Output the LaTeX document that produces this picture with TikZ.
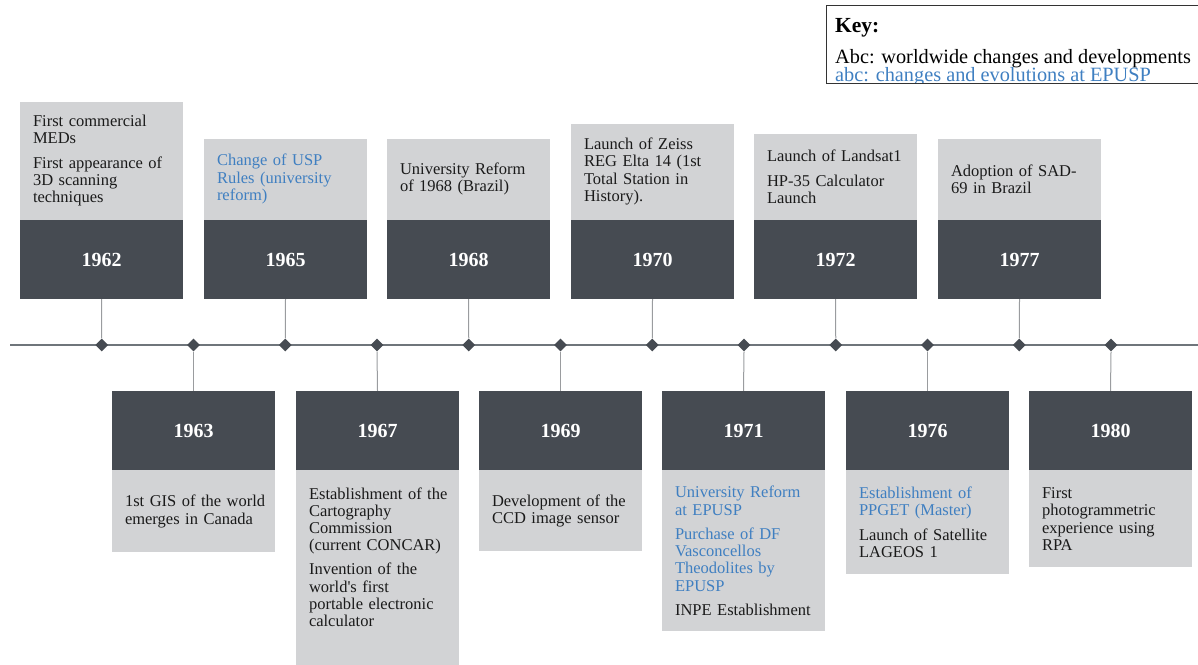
\documentclass[tikz,border=0pt]{standalone}
\usepackage{fontspec}
\setmainfont{Liberation Serif}
\usetikzlibrary{shapes.geometric}

\definecolor{slate}{HTML}{464B52}
\definecolor{cardgrey}{HTML}{D2D3D5}
\definecolor{epusp}{HTML}{3F7FC1}
\definecolor{ink}{HTML}{1A1A1A}
\definecolor{stemgrey}{HTML}{9A9C9F}
\definecolor{axisgrey}{HTML}{6F757B}

\begin{document}
\begin{tikzpicture}[x=1pt,y=-1pt,
  yearbox/.style={fill=slate, text=white,
    font=\fontsize{20}{24}\selectfont\bfseries,
    minimum width=163pt, minimum height=79pt, inner sep=0pt},
  card/.style={fill=cardgrey, minimum width=163pt, inner sep=0pt},
  cardtext/.style={text=ink, font=\fontsize{16.5}{17.3}\selectfont,
    text width=150pt, inner xsep=13pt, inner ysep=0pt, align=left, anchor=west},
  marker/.style={diamond, aspect=1, fill=slate, minimum size=13pt, inner sep=0pt},
  stem/.style={draw=stemgrey, line width=1pt},
  axisline/.style={draw=axisgrey, line width=1.5pt},
  keyline/.style={font=\fontsize{20.3}{22}\selectfont, inner sep=0pt, anchor=base west}
]
\useasboundingbox (0,0) rectangle (1198,664);
\clip (0,0) rectangle (1198,664);

% time axis
\coordinate (axl) at (10,345);
\coordinate (axr) at (1198,345);
\draw[axisline] (axl) -- (axr);

% markers on the axis
\foreach \i in {0,...,11}
  \node[marker] (d\i) at ({101.75+91.75*\i},345) {};

% ---------- events above the axis ----------
\node[yearbox] (y62) at (101.5,259.5) {1962};
\node[card, minimum height=118pt, anchor=south] (c62) at (y62.north) {};
\node[cardtext] (t62) at (c62.west)
  {First commercial\\MEDs\\[7.5pt]First appearance of\\3D scanning\\techniques};

\node[yearbox] (y65) at (285.5,259.5) {1965};
\node[card, minimum height=81pt, anchor=south] (c65) at (y65.north) {};
\node[cardtext, text=epusp] (t65) at (c65.west)
  {Change of USP\\Rules (university\\reform)};

\node[yearbox] (y68) at (468.5,259.5) {1968};
\node[card, minimum height=81pt, anchor=south] (c68) at (y68.north) {};
\node[cardtext] (t68) at (c68.west)
  {University Reform\\of 1968 (Brazil)};

\node[yearbox] (y70) at (652.5,259.5) {1970};
\node[card, minimum height=96pt, anchor=south] (c70) at (y70.north) {};
\node[cardtext] (t70) at (c70.west)
  {Launch of Zeiss\\REG Elta 14 (1st\\Total Station in\\History).};

\node[yearbox] (y72) at (835.5,259.5) {1972};
\node[card, minimum height=86pt, anchor=south] (c72) at (y72.north) {};
\node[cardtext] (t72) at (c72.west)
  {Launch of Landsat1\\[7.5pt]HP-35 Calculator\\Launch};

\node[yearbox] (y77) at (1019.5,259.5) {1977};
\node[card, minimum height=81pt, anchor=south] (c77) at (y77.north) {};
\node[cardtext] (t77) at (c77.west)
  {Adoption of SAD-\\69 in Brazil};

% ---------- events below the axis ----------
\node[yearbox] (y63) at (193.5,430.5) {1963};
\node[card, minimum height=82pt, anchor=north] (c63) at (y63.south) {};
\node[cardtext] (t63) at (c63.west)
  {1st GIS of the world\\emerges in Canada};

\node[yearbox] (y67) at (377.5,430.5) {1967};
\node[card, minimum height=210pt, anchor=north] (c67) at (y67.south) {};
\node[cardtext, anchor=north west, yshift=-17pt] (t67) at (c67.north west)
  {Establishment of the\\Cartography\\Commission\\(current CONCAR)\\[6.5pt]Invention of the\\world\textquotesingle s first\\portable electronic\\calculator};

\node[yearbox] (y69) at (560.5,430.5) {1969};
\node[card, minimum height=81pt, anchor=north] (c69) at (y69.south) {};
\node[cardtext] (t69) at (c69.west)
  {Development of the\\CCD image sensor};

\node[yearbox] (y71) at (743.5,430.5) {1971};
\node[card, minimum height=161pt, anchor=north] (c71) at (y71.south) {};
\node[cardtext] (t71) at (c71.west)
  {\color{epusp}University Reform\\at EPUSP\\[7pt]Purchase of DF\\Vasconcellos\\Theodolites by\\EPUSP\\[7pt]\color{ink}INPE Establishment};

\node[yearbox] (y76) at (927.5,430.5) {1976};
\node[card, minimum height=104pt, anchor=north] (c76) at (y76.south) {};
\node[cardtext] (t76) at (c76.west)
  {\color{epusp}Establishment of\\PPGET (Master)\\[7pt]\color{ink}Launch of Satellite\\LAGEOS 1};

\node[yearbox] (y80) at (1110.5,430.5) {1980};
\node[card, minimum height=97pt, anchor=north] (c80) at (y80.south) {};
\node[cardtext] (t80) at (c80.west)
  {First\\photogrammetric\\experience using\\RPA};

% ---------- stems between year boxes and markers ----------
\draw[stem] (y62.south) -- (d0.north);
\draw[stem] (d1.south) -- (y63.north);
\draw[stem] (y65.south) -- (d2.north);
\draw[stem] (d3.south) -- (y67.north);
\draw[stem] (y68.south) -- (d4.north);
\draw[stem] (d5.south) -- (y69.north);
\draw[stem] (y70.south) -- (d6.north);
\draw[stem] (d7.south) -- (y71.north);
\draw[stem] (y72.south) -- (d8.north);
\draw[stem] (d9.south) -- (y76.north);
\draw[stem] (y77.south) -- (d10.north);
\draw[stem] (d11.south) -- (y80.north);

% ---------- key ----------
\begin{scope}
  \clip (825.5,5) rectangle (1198,83);
  \node[keyline, font=\fontsize{21.5}{24}\selectfont\bfseries] (k1) at (835,32) {Key:};
  \node[keyline] (k2) at (835,63.3) {Abc: worldwide changes and developments};
  \node[keyline, text=epusp] (k3) at (835,81.5) {abc: changes and evolutions at EPUSP};
\end{scope}
\node[draw=black!80, line width=1.3pt, minimum width=420pt, minimum height=78pt,
  inner sep=0pt, anchor=north west] (key) at (825.5,5) {};
\end{tikzpicture}
\end{document}
